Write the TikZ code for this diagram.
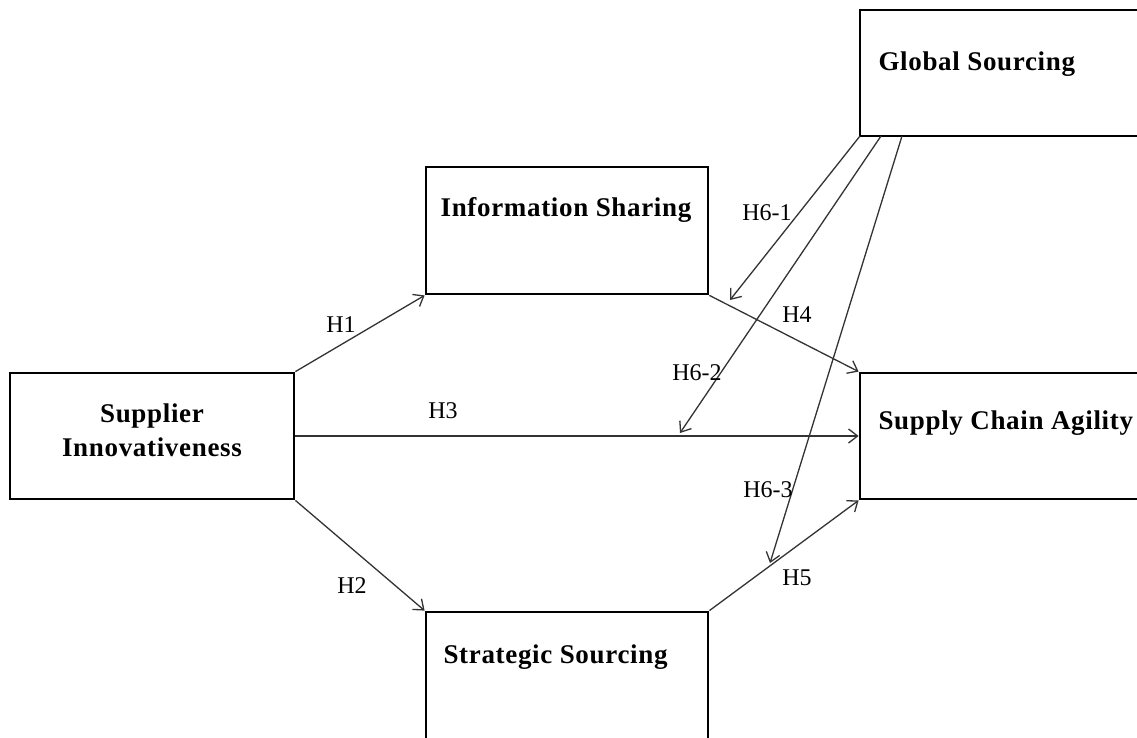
\documentclass[tikz,border=0pt]{standalone}
\usepackage{fontspec}
\setmainfont{Liberation Serif}
\usepackage{tikz}
\usetikzlibrary{arrows.meta}
\usepackage{xcolor}

\tikzset{
	box/.style={draw, line width=2.8pt, inner sep=0pt},
	title/.style={font=\fontsize{27}{34}\selectfont\bfseries\addfontfeature{LetterSpace=2.5}},
	hyp/.style={font=\fontsize{24}{28}\selectfont},
	path/.style={draw=black!80, line width=1.3pt, -{Straight Barb[length=9pt,width=14pt]}}
}

\begin{document}
\begin{tikzpicture}[x=1pt,y=-1pt]
				\useasboundingbox[fill=white] (0,0) rectangle (1137,738);
				
				\node(SI) at (152,436)[box,minimum width=284pt,minimum height=126pt]{};
				\node(IS) at (567,230.5)[box,minimum width=282pt,minimum height=127pt]{};
				\node(SS) at (567,681)[box,minimum width=282pt,minimum height=138pt]{};
				\node(GS) at (1005,73)[box,minimum width=290pt,minimum height=126pt]{};
				\node(SCA) at (1005,436)[box,minimum width=290pt,minimum height=126pt]{};
				
				\node(SItext) at (152,430)[title,align=center]{Supplier\\Innovativeness};
				\node(IStext) at (566,210)[title]{Information Sharing};
				\node(SStext) at (440,657)[title,anchor=west]{Strategic Sourcing};
				\node(GStext) at (875,64)[title,anchor=west]{Global Sourcing};
				\node(SCAtext) at (875,423)[title,anchor=west]{Supply Chain Agility};
				
				\coordinate(g1) at (860,136);
				\coordinate(g2) at (881,136);
				\coordinate(g3) at (902,136);
				\coordinate(t1) at (730,300);
				\coordinate(t2) at (680,433);
				\coordinate(t3) at (770,563);
				
				\draw[path] (SI.north east) to (IS.south west);
				\draw[path] (SI.south east) to (SS.north west);
				\draw[path] (SI.east) to (SCA.west);
				\draw[path] (IS.south east) to (SCA.north west);
				\draw[path] (SS.north east) to (SCA.south west);
				\draw[path] (g1) to (t1);
				\draw[path] (g2) to (t2);
				\draw[path] (g3) to (t3);
				
				\node(H1) at (341,325)[hyp]{H1};
				\node(H2) at (352,586)[hyp]{H2};
				\node(H3) at (443,411)[hyp]{H3};
				\node(H4) at (797,315)[hyp]{H4};
				\node(H5) at (797,578)[hyp]{H5};
				\node(H61) at (767,213)[hyp]{H6-1};
				\node(H62) at (697,373)[hyp]{H6-2};
				\node(H63) at (768,490)[hyp]{H6-3};
			\end{tikzpicture}
\end{document}
